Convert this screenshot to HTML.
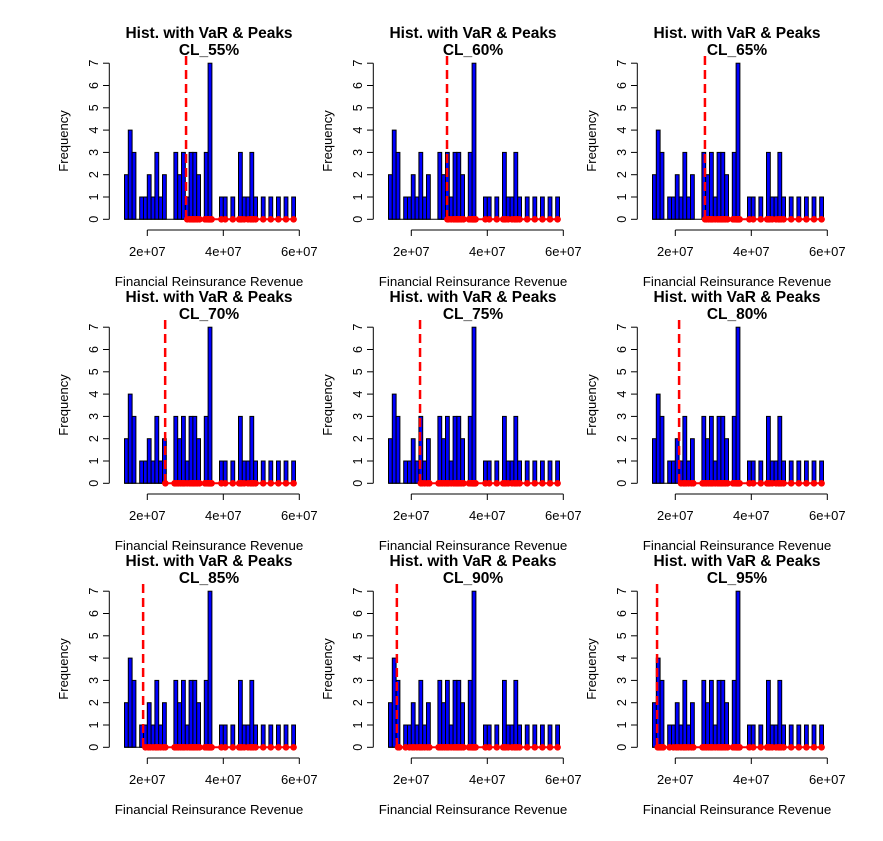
<!DOCTYPE html>
<html><head><meta charset="utf-8"><style>
body{margin:0;background:#fff;}
svg{display:block;font-family:"Liberation Sans",Arial,sans-serif;}
</style></head><body>
<svg id="c" width="883" height="841"></svg>
<script>
const binStart = 1.4e7;
const binWidth = 1e6;
const counts = [2,4,3,0,1,1,2,1,3,1,2,0,0,3,2,3,1,3,3,2,0,3,7,0,0,1,1,0,1,0,3,1,1,3,1,0,1,0,1,0,1,0,1,0,1];
const levels = ["55%","60%","65%","70%","75%","80%","85%","90%","95%"];
const varValues = [3.02e7,2.94e7,2.78e7,2.47e7,2.23e7,2.10e7,1.89e7,1.62e7,1.52e7];
const xTicks = [2e7,4e7,6e7];
const xTickLabels = ["2e+07","4e+07","6e+07"];
const yTicks = [0,1,2,3,4,5,6,7];

const NS="http://www.w3.org/2000/svg";
const svg=document.getElementById('c');
function mk(tag,attrs,parent){const e=document.createElementNS(NS,tag);for(const k in attrs)e.setAttribute(k,attrs[k]);(parent||svg).appendChild(e);return e;}
const X=v=>147.3+(v-2e7)/1e7*38;
const Y=v=>219.3-v*22.3;

const pts=[];
counts.forEach((c,i)=>{for(let k=0;k<c;k++)pts.push(binStart+binWidth*i+binWidth*(k+0.5)/c);});

levels.forEach((lv,p)=>{
  const g=mk('g',{transform:`translate(${(p%3)*264},${Math.floor(p/3)*264})`});
  
  
  const t1=mk('text',{x:209,y:38,'text-anchor':'middle','font-size':15.5,'font-weight':'bold',fill:'#000'},g);
  t1.textContent='Hist. with VaR & Peaks';
  
  
  const t2=mk('text',{x:209,y:55,'text-anchor':'middle','font-size':15.5,'font-weight':'bold',fill:'#000'},g);
  t2.textContent='CL_'+lv;
  
  
  counts.forEach((c,i)=>{
    if(c<=0)return;
    const x0=X(binStart+binWidth*i),x1=X(binStart+binWidth*(i+1));
    const r=mk('rect',{x:x0,y:Y(c),width:x1-x0,height:Y(0)-Y(c),fill:'#0000ff',stroke:'#000','stroke-width':1},g);
    
    
  });
  mk('line',{x1:X(binStart),x2:X(binStart+binWidth*counts.length),y1:Y(0),y2:Y(0),stroke:'#000','stroke-width':1},g);
  const ya=mk('g',{},g);
  
  
  mk('line',{x1:109.3,x2:109.3,y1:Y(0),y2:Y(7),stroke:'#000'},ya);
  yTicks.forEach(v=>{
    mk('line',{x1:103,x2:109.3,y1:Y(v),y2:Y(v),stroke:'#000'},ya);
    const tt=mk('text',{x:0,y:0,transform:`translate(98,${Y(v)}) rotate(-90)`,'text-anchor':'middle','font-size':12.5},ya);
    tt.textContent=v;
  });
  const yl=mk('text',{transform:`translate(68,141) rotate(-90)`,'text-anchor':'middle','font-size':13},g);
  yl.textContent='Frequency';
  
  
  const xa=mk('g',{},g);
  
  
  mk('line',{x1:X(xTicks[0]),x2:X(xTicks[xTicks.length-1]),y1:230,y2:230,stroke:'#000'},xa);
  xTicks.forEach((v,i)=>{
    mk('line',{x1:X(v),x2:X(v),y1:230,y2:236,stroke:'#000'},xa);
    const tt=mk('text',{x:X(v),y:256,'text-anchor':'middle','font-size':13},xa);
    tt.textContent=xTickLabels[i];
  });
  const xl=mk('text',{x:209,y:286,'text-anchor':'middle','font-size':13.3},g);
  xl.textContent='Financial Reinsurance Revenue';
  
  
  const vx=X(varValues[p]);
  const vl=mk('line',{x1:vx,x2:vx,y1:56,y2:Y(0),stroke:'#ff0000','stroke-width':2.5,'stroke-dasharray':'9,5'},g);
  
  
  const above=pts.filter(v=>v>=varValues[p]);
  const hl=mk('line',{x1:vx,x2:X(Math.max(...above)),y1:Y(0),y2:Y(0),stroke:'#ff0000','stroke-width':2},g);
  
  
  above.forEach(v=>{
    const d=mk('circle',{cx:X(v),cy:Y(0),r:3.3,fill:'#ff0000'},g);
    
    
  });
});
</script>
</body></html>
